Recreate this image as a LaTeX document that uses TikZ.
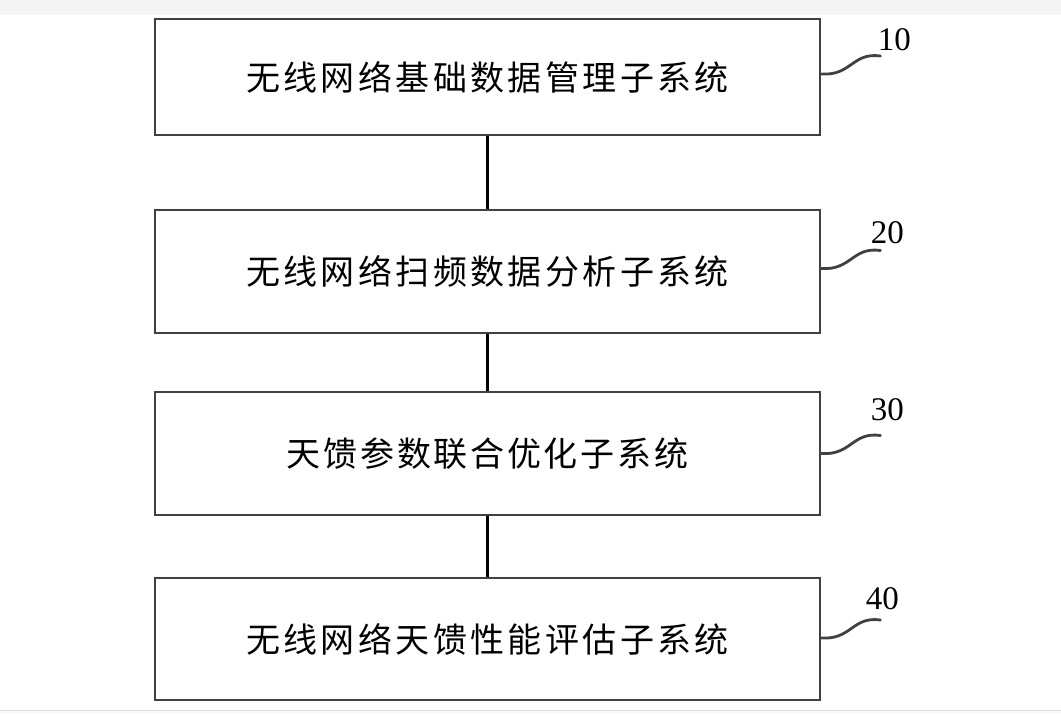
\documentclass[tikz,border=0pt]{standalone}
\usepackage{fontspec}
\usepackage{xcolor}
\usetikzlibrary{positioning}
\newfontfamily\cjk[LetterSpace=10]{Noto Sans CJK SC}
\newfontfamily\cjknarrow[LetterSpace=8]{Noto Sans CJK SC}
\newfontfamily\tagfont{Liberation Serif}
\definecolor{BoxGray}{HTML}{404040}
\definecolor{BandGray}{HTML}{F4F4F4}
\definecolor{RuleGray}{HTML}{DEDEDE}

\begin{document}
\begin{tikzpicture}[
      x=1pt, y=-1pt,
      node distance=72pt,
      subsys/.style={draw=BoxGray, line width=2.8pt, fill=white, minimum width=665pt, inner sep=0pt, font=\fontsize{34}{40}\selectfont\cjk},
      link/.style={line width=2.8pt, black},
      wave/.style={line width=2.8pt, BoxGray, line cap=round},
      tag/.style={inner sep=0pt, anchor=base, font=\fontsize{33}{38}\selectfont\tagfont}
    ]
      \useasboundingbox (0,0) rectangle (1061,713);
      \fill[BandGray] (0,0) rectangle (1061,15);
      \fill[BandGray!60] (0,710) rectangle (1061,713);
      \draw[RuleGray, line width=1pt] (0,710.5) -- (1061,710.5);
      \node[subsys, minimum height=116pt] (base) at (487.5,77) {无线网络基础数据管理子系统};
      \node[subsys, minimum height=123pt, below=72.2pt of base] (scan) {无线网络扫频数据分析子系统};
      \node[subsys, minimum height=123pt, below=56.2pt of scan, font=\fontsize{34}{40}\selectfont\cjknarrow] (optim) {天馈参数联合优化子系统};
      \node[subsys, minimum height=122pt, below=60.2pt of optim] (eval) {无线网络天馈性能评估子系统};
      \draw[link] (base) -- (scan);
      \draw[link] (scan) -- (optim);
      \draw[link] (optim) -- (eval);
      % Reference numerals
      \foreach \sub/\num/\dy/\lx/\ly in {base/10/3/14/-6, scan/20/3/7/-7, optim/30/0/7/-15, eval/40/1/2/-11} {
        \coordinate (s\num) at ([yshift=\dy pt]\sub.east);
        \coordinate (t\num) at ([shift={(59,-18)}]s\num);
        \draw[wave] (s\num) .. controls +(30,2) and +(-28,-4) .. (t\num);
        \node[tag] (l\num) at ([shift={(\lx,\ly)}]t\num) {\num};
      }
    \end{tikzpicture}
\end{document}
